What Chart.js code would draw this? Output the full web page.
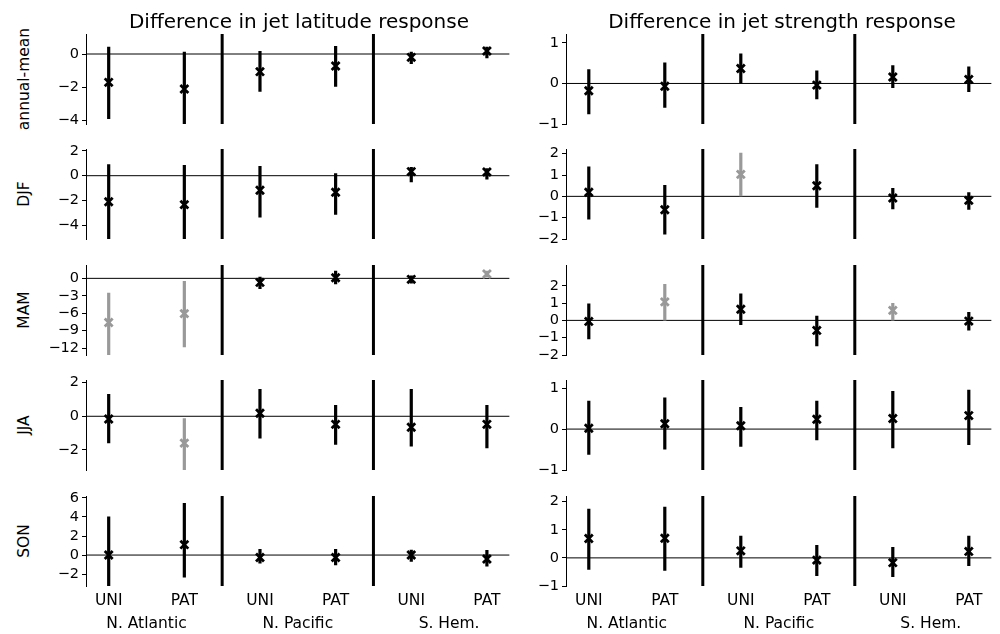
<!DOCTYPE html>
<html><head><meta charset="utf-8">
<script src="https://cdn.jsdelivr.net/npm/chart.js@4.4.1/dist/chart.umd.min.js"></script>
<style>
html,body{margin:0;padding:0;background:#fff;}
body{width:1000px;height:634px;overflow:hidden;position:relative;font-family:"DejaVu Sans",sans-serif;color:#000;}
canvas{position:absolute;}
.coltitle{position:absolute;width:500px;text-align:center;font-size:20px;line-height:24px;white-space:nowrap;}
.rowlab{position:absolute;width:200px;height:20px;line-height:20px;text-align:center;font-size:15.5px;transform:rotate(-90deg);white-space:nowrap;}
</style></head><body>
<script>
// ---- categories ----
const seasons = ['annual-mean', 'DJF', 'MAM', 'JJA', 'SON'];
const regions = ['N. Atlantic', 'N. Pacific', 'S. Hem.'];
const experiments = ['UNI', 'PAT'];
const panelTitles = ['Difference in jet latitude response', 'Difference in jet strength response'];

// ---- jet latitude response (order: NA UNI, NA PAT, NP UNI, NP PAT, SH UNI, SH PAT) ----
const latMean = [
  [-1.7, -2.1, -1.06, -0.72, -0.2, 0.18],
  [-2.1, -2.33, -1.17, -1.33, 0.33, 0.3],
  [-7.6, -6.07, -0.7, 0.1, -0.17, 0.75],
  [-0.16, -1.6, 0.18, -0.48, -0.65, -0.48],
  [0.0, 1.09, -0.25, -0.25, 0.0, -0.42]
];
const latLow = [
  [-3.9, -4.2, -2.26, -1.96, -0.6, -0.26],
  [-5.1, -5.1, -3.36, -3.15, -0.52, -0.3],
  [-13.3, -11.85, -1.85, -1.0, -0.87, 0.2],
  [-1.6, -3.3, -1.33, -1.7, -1.8, -1.9],
  [-3.3, -2.37, -0.89, -1.06, -0.71, -1.2]
];
const latHigh = [
  [0.44, 0.14, 0.18, 0.48, 0.14, 0.44],
  [0.92, 0.86, 0.78, 0.19, 0.7, 0.6],
  [-2.5, -0.47, 0.28, 1.3, 0.5, 1.3],
  [1.32, -0.12, 1.62, 0.67, 1.62, 0.67],
  [4.06, 5.47, 0.63, 0.63, 0.56, 0.53]
];
const latSignificant = [
  [0, 0, 0, 0, 0, 0],
  [0, 0, 0, 0, 0, 0],
  [1, 1, 0, 0, 0, 1],
  [0, 1, 0, 0, 0, 0],
  [0, 0, 0, 0, 0, 0]
];
const latYMin = [-4.2, -5.1, -13.2, -3.2, -3.25];
const latYMax = [1.2, 2.15, 2.3, 2.16, 6.2];
const latTicks = [[-4, -2, 0], [-4, -2, 0, 2], [-12, -9, -6, -3, 0], [-2, 0, 2], [-2, 0, 2, 4, 6]];

// ---- jet strength response ----
const strMean = [
  [-0.18, -0.07, 0.37, -0.04, 0.16, 0.1],
  [0.19, -0.63, 1.03, 0.5, -0.08, -0.19],
  [-0.06, 1.07, 0.64, -0.58, 0.58, -0.04],
  [0.02, 0.13, 0.08, 0.24, 0.26, 0.33],
  [0.69, 0.7, 0.25, -0.08, -0.17, 0.23]
];
const strLow = [
  [-0.76, -0.6, 0.0, -0.39, -0.11, -0.21],
  [-1.08, -1.79, 0.0, -0.53, -0.6, -0.63],
  [-1.09, 0.0, -0.27, -1.5, 0.0, -0.58],
  [-0.63, -0.5, -0.43, -0.27, -0.47, -0.39],
  [-0.42, -0.46, -0.35, -0.64, -0.68, -0.29]
];
const strHigh = [
  [0.35, 0.52, 0.74, 0.32, 0.45, 0.42],
  [1.4, 0.53, 2.05, 1.5, 0.39, 0.19],
  [0.97, 2.1, 1.55, 0.27, 1.0, 0.49],
  [0.69, 0.77, 0.54, 0.69, 0.93, 0.96],
  [1.75, 1.82, 0.79, 0.46, 0.39, 0.79]
];
const strSignificant = [
  [0, 0, 0, 0, 0, 0],
  [0, 0, 1, 0, 0, 0],
  [0, 1, 0, 0, 1, 0],
  [0, 0, 0, 0, 0, 0],
  [0, 0, 0, 0, 0, 0]
];
const strYMin = [-1, -2, -2, -1, -1];
const strYMax = [1.22, 2.22, 3.2, 1.2, 2.2];
const strTicks = [[-1, 0, 1], [-2, -1, 0, 1, 2], [-2, -1, 0, 1, 2], [-1, 0, 1], [-1, 0, 1, 2]];

// ---- layout & style (not data) ----
const FONT = 'DejaVu Sans';
const BLACK = '#000000', GRAY = '#999999';
const X_MIN = -0.6, X_MAX = 10.6;
const colLeft = [86, 566], colWidth = [426, 432];
const rowTop0 = 34, rowStep = 115.4, rowH = 90;
const YAXIS_W = 50, PAD_T = 14, PAD_B = 14, XAXIS_H = 50;

function slotOf(i) { return Math.floor(i / 2) * 4 + (i % 2) * 2; }
const xTickVals = [], xTickText = {};
regions.forEach((r, ri) => {
  experiments.forEach((e, ei) => { const v = ri * 4 + ei * 2; xTickVals.push(v); xTickText[v] = [e]; });
  xTickVals.push(ri * 4 + 1); xTickText[ri * 4 + 1] = ['', r];
});
xTickVals.sort((a, b) => a - b);
const fmt = v => String(v).replace('-', '\u2212');

Chart.defaults.font.family = FONT;
Chart.defaults.color = BLACK;

function makePanel(col, row) {
  const mean = col === 0 ? latMean[row] : strMean[row];
  const lo = col === 0 ? latLow[row] : strLow[row];
  const hi = col === 0 ? latHigh[row] : strHigh[row];
  const sig = col === 0 ? latSignificant[row] : strSignificant[row];
  const ymin = col === 0 ? latYMin[row] : strYMin[row];
  const ymax = col === 0 ? latYMax[row] : strYMax[row];
  const ticks = col === 0 ? latTicks[row] : strTicks[row];
  const bottom = row === seasons.length - 1;

  const plotTop = rowTop0 + row * rowStep;
  const cv = document.createElement('canvas');
  const padR = col === 0 ? 6 : 2;
  const W = YAXIS_W + colWidth[col] + padR;
  const H = PAD_T + rowH + (bottom ? XAXIS_H : PAD_B);
  cv.width = W; cv.height = H;
  cv.style.width = W + 'px'; cv.style.height = H + 'px';
  cv.style.left = (colLeft[col] - YAXIS_W) + 'px';
  cv.style.top = (plotTop - PAD_T) + 'px';
  document.body.appendChild(cv);

  const colors = sig.map(s => s ? GRAY : BLACK);
  const datasets = [];
  // markers (drawn on top)
  datasets.push({
    data: mean.map((m, i) => ({ x: slotOf(i), y: m })),
    pointStyle: 'crossRot', pointRadius: 5.6, pointHoverRadius: 5.6,
    pointBorderWidth: 2.8, pointBorderColor: colors, pointBackgroundColor: colors,
    showLine: false
  });
  // error bars
  mean.forEach((m, i) => {
    datasets.push({
      data: [{ x: slotOf(i), y: lo[i] }, { x: slotOf(i), y: hi[i] }],
      showLine: true, borderColor: colors[i], borderWidth: 3.2, pointRadius: 0, borderCapStyle: 'butt'
    });
  });
  // region dividers
  for (let r = 1; r < regions.length; r++) {
    datasets.push({
      data: [{ x: r * 4 - 1, y: ymin }, { x: r * 4 - 1, y: ymax }],
      showLine: true, borderColor: BLACK, borderWidth: 3, pointRadius: 0
    });
  }
  // zero line
  datasets.push({
    data: [{ x: X_MIN, y: 0 }, { x: X_MAX, y: 0 }],
    showLine: true, borderColor: BLACK, borderWidth: 1, pointRadius: 0
  });

  new Chart(cv, {
    type: 'scatter',
    data: { datasets },
    options: {
      responsive: false, maintainAspectRatio: false, animation: false, devicePixelRatio: 1,
      events: [],
      layout: { padding: { top: PAD_T, bottom: bottom ? 0 : PAD_B, left: 0, right: padR } },
      plugins: { legend: { display: false }, tooltip: { enabled: false }, title: { display: false } },
      scales: {
        x: {
          type: 'linear', min: X_MIN, max: X_MAX, display: bottom,
          afterBuildTicks: s => { s.ticks = xTickVals.map(v => ({ value: v })); },
          afterFit: s => { s.height = bottom ? XAXIS_H : 0; },
          grid: { display: false, drawTicks: false },
          border: { display: false },
          ticks: {
            autoSkip: false, maxRotation: 0, minRotation: 0, padding: 4, color: BLACK,
            font: { family: FONT, size: 15.5, lineHeight: 1.47 },
            callback: v => xTickText[v] || ''
          }
        },
        y: {
          type: 'linear', min: ymin, max: ymax,
          afterBuildTicks: s => { s.ticks = ticks.map(v => ({ value: v })); },
          afterFit: s => { s.width = YAXIS_W; },
          grid: { display: true, drawOnChartArea: false, drawTicks: true, tickLength: 4, color: BLACK, lineWidth: 1 },
          border: { display: true, color: BLACK, width: 1 },
          ticks: {
            autoSkip: false, padding: 3, color: BLACK,
            font: { family: FONT, size: 14.5 },
            callback: v => fmt(v)
          }
        }
      }
    }
  });
}

for (let c = 0; c < 2; c++) for (let r = 0; r < seasons.length; r++) makePanel(c, r);

panelTitles.forEach((t, c) => {
  const d = document.createElement('div');
  d.className = 'coltitle';
  d.textContent = t;
  d.style.left = (colLeft[c] + colWidth[c] / 2 - 250) + 'px';
  d.style.top = '9px';
  document.body.appendChild(d);
});
seasons.forEach((s, r) => {
  const d = document.createElement('div');
  d.className = 'rowlab';
  d.textContent = s;
  const cy = rowTop0 + r * rowStep + rowH / 2;
  d.style.left = (24 - 100) + 'px';
  d.style.top = (cy - 10) + 'px';
  document.body.appendChild(d);
});
</script>
</body></html>
